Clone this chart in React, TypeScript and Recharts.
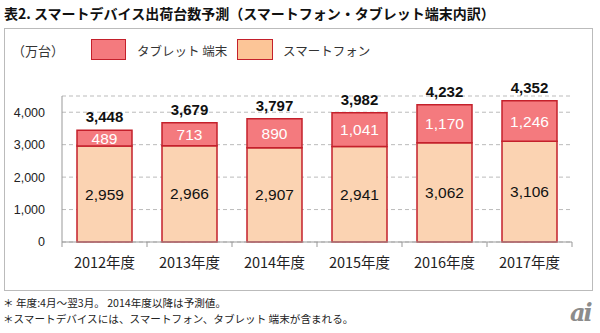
import { BarChart, Bar, XAxis, YAxis, CartesianGrid, LabelList } from "recharts";

const years = ["2012年度", "2013年度", "2014年度", "2015年度", "2016年度", "2017年度"];
const smartphone = [2959, 2966, 2907, 2941, 3062, 3106];
const tablet = [489, 713, 890, 1041, 1170, 1246];
const yTicks = [0, 1000, 2000, 3000, 4000];

const TABLET_FILL = "#F47A7E";
const PHONE_FILL = "#FBD3B2";
const EDGE = "#C4202B";
const FONT = '"Liberation Sans", Arial, "Noto Sans CJK JP", sans-serif';
const JP = '"Noto Sans CJK JP", "Liberation Sans", sans-serif';

const data = years.map((year, i) => ({
  year,
  smartphone: smartphone[i],
  tablet: tablet[i],
  total: smartphone[i] + tablet[i],
}));

const fmt = (v: any) => String(v).replace(/\B(?=(\d{3})+(?!\d))/g, ",");

// category tick with boundary marks like the original
const YearTick = (props: any) => {
  const { x, y, payload, index } = props;
  const half = payload?.offset ?? 42.5;
  return (
    <g>
      <line x1={x - half} x2={x - half} y1={y} y2={y + 5} stroke="#999" />
      {index === years.length - 1 && (
        <line x1={x + half} x2={x + half} y1={y} y2={y + 5} stroke="#999" />
      )}
      <text x={x} y={y + 26} textAnchor="middle" fill="#222" fontSize={14.5} fontFamily={JP}>
        {payload.value}
      </text>
    </g>
  );
};

const App = () => {
  return (
    <div
      style={{
        position: "absolute",
        left: 0,
        top: 0,
        width: 600,
        height: 333,
        background: "#fff",
        fontFamily: FONT,
        overflow: "hidden",
      }}
    >
      <div
        style={{
          position: "absolute",
          left: 4,
          top: 3,
          fontSize: 14,
          fontWeight: "bold",
          fontFamily: JP,
          color: "#111",
          whiteSpace: "nowrap",
        }}
      >
        表2. スマートデバイス出荷台数予測（スマートフォン・タブレット端末内訳）
      </div>
      <div
        style={{
          position: "absolute",
          left: 4,
          top: 28,
          width: 587,
          height: 261,
          border: "1px solid #bbb",
        }}
      />
      {/* legend */}
      <div style={{ position: "absolute", left: 12, top: 41, fontSize: 13, fontFamily: JP, color: "#333" }}>
        （万台）
      </div>
      <div
        style={{
          position: "absolute",
          left: 91,
          top: 39,
          width: 33,
          height: 19,
          background: TABLET_FILL,
          border: `1px solid ${EDGE}`,
        }}
      />
      <div style={{ position: "absolute", left: 137, top: 41, fontSize: 12.5, fontFamily: JP, color: "#333" }}>
        タブレット 端末
      </div>
      <div
        style={{
          position: "absolute",
          left: 237,
          top: 39,
          width: 34,
          height: 19,
          background: "#FCC597",
          border: `1px solid ${EDGE}`,
        }}
      />
      <div style={{ position: "absolute", left: 283, top: 41, fontSize: 12.5, fontFamily: JP, color: "#333" }}>
        スマートフォン
      </div>

      <div style={{ position: "absolute", left: 0, top: 0 }}>
        <BarChart
          width={600}
          height={333}
          data={data}
          margin={{ top: 96, right: 28, bottom: 61, left: 0 }}
        >
          <CartesianGrid vertical={false} stroke="#bbb" strokeDasharray="4 3" />
          <XAxis
            dataKey="year"
            height={30}
            axisLine={{ stroke: "#999" }}
            tickLine={false}
            tickSize={0}
            tickMargin={0}
            tick={<YearTick />}
            interval={0}
          />
          <YAxis
            width={62}
            domain={[0, 4500]}
            ticks={yTicks}
            tickFormatter={fmt}
            axisLine={{ stroke: "#999" }}
            tickLine={false}
            tickMargin={11}
            tick={{ fill: "#222", fontSize: 12.5, fontFamily: FONT }}
          />
          <Bar
            dataKey="smartphone"
            stackId="a"
            fill={PHONE_FILL}
            stroke={EDGE}
            strokeWidth={1.5}
            barSize={55}
            isAnimationActive={false}
          >
            <LabelList
              dataKey="smartphone"
              position="center"
              formatter={fmt}
              fill="#111"
              fontSize={15.5}
              fontFamily={FONT}
            />
          </Bar>
          <Bar
            dataKey="tablet"
            stackId="a"
            fill={TABLET_FILL}
            stroke={EDGE}
            strokeWidth={1.5}
            barSize={55}
            isAnimationActive={false}
          >
            <LabelList
              dataKey="tablet"
              position="center"
              formatter={fmt}
              fill="#fff"
              fontSize={15.5}
              fontFamily={FONT}
            />
            <LabelList
              dataKey="total"
              position="top"
              offset={8}
              formatter={fmt}
              fill="#111"
              fontSize={15}
              fontWeight="bold"
              fontFamily={FONT}
            />
          </Bar>
        </BarChart>
      </div>

      {/* footnotes */}
      <div
        style={{
          position: "absolute",
          left: 3,
          top: 295,
          fontSize: 10.6,
          lineHeight: "16px",
          fontFamily: JP,
          color: "#222",
          whiteSpace: "nowrap",
        }}
      >
        <div>＊ 年度:4月～翌3月。 2014年度以降は予測値。</div>
        <div>＊スマートデバイスには、スマートフォン、タブレット 端末が含まれる。</div>
      </div>
      <div
        style={{
          position: "absolute",
          left: 570,
          top: 298,
          fontSize: 24,
          fontStyle: "italic",
          fontWeight: "bold",
          fontFamily: '"DejaVu Serif", serif',
          color: "#8c8c8c",
          letterSpacing: -2,
        }}
      >
        ai
      </div>
    </div>
  );
};

export default App;
